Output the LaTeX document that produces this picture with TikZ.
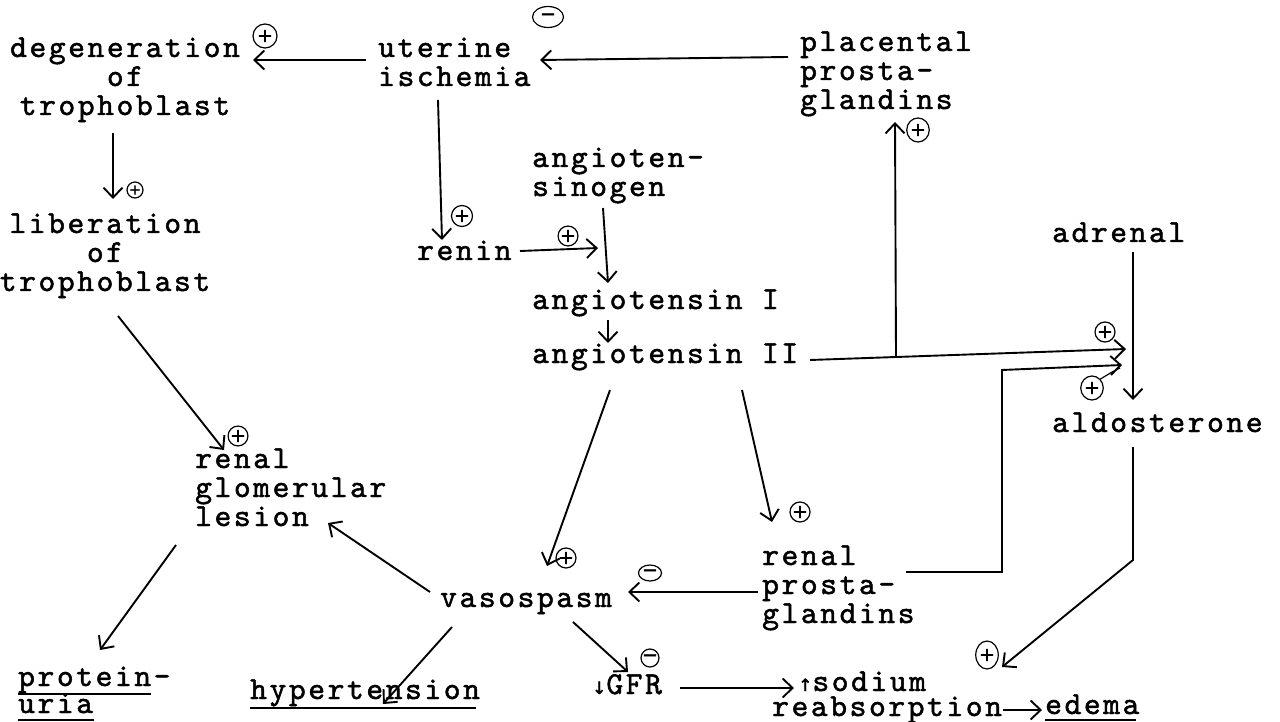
\documentclass[tikz,border=0pt]{standalone}
\usepackage{fontspec}
\newfontfamily\tw[LetterSpace=8,FakeBold=1.5]{lmmono10-regular.otf}
\newfontfamily\dv{DejaVu Sans}
\newfontfamily\dvb[FakeBold=2]{DejaVu Sans}
\usetikzlibrary{arrows.meta,calc,shapes.geometric}
\newcommand\mlines[1]{\begin{tabular}[t]{@{}l@{}}#1\end{tabular}}
\newcommand\clines[1]{\begin{tabular}[t]{@{}c@{}}#1\end{tabular}}
\begin{document}
\begin{tikzpicture}[x=1pt,y=-1pt,
  txt/.style={font=\tw\fontsize{32}{29}\selectfont, inner sep=0pt, anchor=base west},
  ctxt/.style={txt, anchor=base},
  arr/.style={line width=1.9pt, -{Straight Barb[length=10pt,width=19pt]}},
  ul/.style={line width=1.9pt},
  sp/.style={circle, draw, line width=1.2pt, inner sep=0pt, minimum size=#1, font=\dvb\fontsize{19}{19}\selectfont},
  se/.style={ellipse, draw, line width=1.2pt, inner sep=0pt, font=\dvb\fontsize{19}{19}\selectfont}]
\useasboundingbox (0,0) rectangle (1280,722);
\fill[white] (0,0) rectangle (1280,722);

% nodes
\node[ctxt] (degen) at (125,57) {\clines{degeneration\\of\\trophoblast}};
\node[ctxt] (lib) at (105,233) {\clines{liberation\\of\\trophoblast}};
\node[txt] (uter) at (378,57) {\mlines{uterine\\ischemia}};
\node[txt] (plac) at (800,51) {\mlines{placental\\prosta-\\glandins}};
\node[txt] (angen) at (532,167) {\mlines{angioten-\\sinogen}};
\node[txt] (renin) at (417,260) {renin};
\node[txt] (ang1) at (532,309) {angiotensin I};
\node[txt] (ang2) at (532,363) {angiotensin II};
\node[txt] (adr) at (1052,242) {adrenal};
\node[txt] (aldo) at (1052,432) {aldosterone};
\node[txt] (les) at (195,468) {\mlines{renal\\glomerular\\lesion}};
\node[txt] (vaso) at (440,607) {vasospasm};
\node[txt] (rpg) at (762,565) {\mlines{renal\\prosta-\\glandins}};
\node[txt] (prot) at (18,686) {\mlines{protein-\\[-2pt]uria}};
\node[txt] (hyp) at (250,699) {hypertension};
\node[txt] (gfr) at (592,694) {{\dvb\fontsize{17}{17}\selectfont ↓}GFR};
\node[txt] (sod) at (772,691) {\mlines{\hspace*{26pt}{\dvb\fontsize{17}{17}\selectfont ↑}sodium\\[-4pt]reabsorption}};
\node[txt] (edema) at (1045,714) {edema};

% underlines
\draw[ul] ($(prot.base west)+(0,8)$) -- ($(prot.base west)+(133,8)$);
\draw[ul] ($(prot.base west)+(0,34)$) -- ($(prot.base west)+(76,34)$);
\draw[ul] ($(hyp.base west)+(0,9)$) -- ($(hyp.base east)+(-4,9)$);
\draw[ul] ($(edema.base west)+(0,6)$) -- ($(edema.base east)+(-4,6)$);

% connectors
\draw[arr] ($(uter.base west)+(-12,3)$) -- ($(degen.base)+(128,3)$);
\draw[arr] ($(plac.base west)+(-12,6)$) -- ($(uter.base west)+(162,3)$);
\draw[arr] ($(degen.base)+(-12,76)$) -- ($(lib.base)+(8,-34)$);
\draw[arr] ($(uter.base west)+(60,43)$) -- ($(renin.base west)+(25,-20)$);
\draw[arr] ($(renin.base west)+(103,-9)$) -- ($(ang1.base west)+(66,-61)$);
\draw[arr] ($(angen.base west)+(71,41)$) -- ($(ang1.base west)+(76,-26)$);
\draw[arr] ($(ang1.base west)+(76,11)$) -- ($(ang2.base west)+(76,-20)$);
\draw[arr] ($(ang2.base west)+(278,-3)$) -- ($(aldo.base west)+(74,-83)$);
\coordinate (j) at ($(ang2.base west)+(364,-7)$);
\draw[arr] (j) -- ($(plac.base west)+(95,71)$);
\draw[arr] ($(adr.base west)+(81,10)$) -- ($(aldo.base west)+(81,-32)$);
\draw[arr] ($(rpg.base west)+(144,7)$) -| ($(aldo.base west)+(-50,-62)$) -- ($(aldo.base west)+(70,-67)$);
\draw[arr] ($(aldo.base west)+(81,15)$) -- ($(aldo.base west)+(81,128)$) -- ($(sod.base west)+(230,-24)$);
\draw[arr] ($(ang2.base west)+(78,27)$) -- ($(vaso.base west)+(107,-41)$);
\draw[arr] ($(ang2.base west)+(210,27)$) -- ($(rpg.base west)+(10,-43)$);
\draw[arr] ($(rpg.base west)+(-4,27)$) -- ($(vaso.base west)+(188,-15)$);
\draw[arr] ($(vaso.base west)+(-10,-15)$) -- ($(les.base west)+(133,55)$);
\draw[arr] ($(les.base west)+(-19,77)$) -- ($(prot.base west)+(82,-36)$);
\draw[arr] ($(lib.base)+(13,83)$) -- ($(les.base west)+(29,-18)$);
\draw[arr] ($(vaso.base west)+(12,20)$) -- ($(hyp.base west)+(133,5)$);
\draw[arr] ($(vaso.base west)+(133,15)$) -- ($(gfr.base west)+(36,-22)$);
\draw[arr] ($(gfr.base west)+(88,-6)$) -- ($(sod.base west)+(22,-3)$);
\draw[arr] ($(sod.base west)+(231,19)$) -- ($(edema.base west)+(-3,-4)$);

% signs
\node[sp=24pt] (s1) at (265,36) {+};
\node[se, minimum width=31pt, minimum height=21pt] (s2) at (548,17) {−};
\node[sp=16pt, font=\dvb\fontsize{14}{14}\selectfont] (s3) at (135,190) {+};
\node[sp=21pt] (s4) at (462,216) {+};
\node[sp=19pt] (s5) at (568,236) {+};
\node[se, minimum width=20pt, minimum height=24pt] (s6) at (918,130) {+};
\node[sp=20pt] (s7) at (1105,332) {+};
\node[se, minimum width=21pt, minimum height=24pt] (s8) at (1092,388) {+};
\draw[line width=1.2pt] (s8.north east) .. controls (1112,372) .. (1120,368);
\node[sp=19pt] (s9) at (238,436) {+};
\node[sp=20pt] (s10) at (566,558) {+};
\node[sp=20pt] (s11) at (800,512) {+};
\node[se, minimum width=23pt, minimum height=16pt] (s12) at (650,573) {−};
\node[sp=18pt] (s13) at (650,658) {−};
\node[se, minimum width=20pt, minimum height=28pt] (s14) at (987,655) {+};
\end{tikzpicture}
\end{document}
